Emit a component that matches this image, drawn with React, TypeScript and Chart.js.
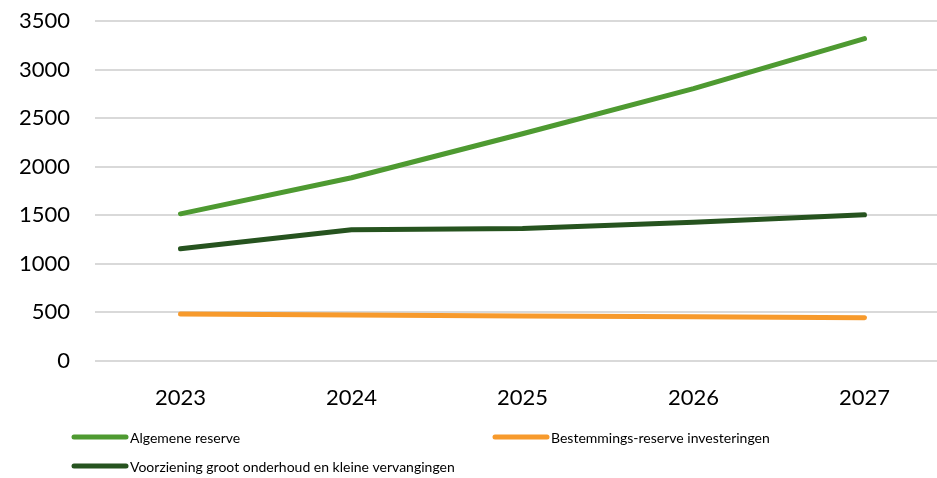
import React, { useEffect, useRef } from "react";
import { Chart, registerables } from "chart.js";

Chart.register(...registerables);

const categories = ["2023", "2024", "2025", "2026", "2027"];
const algemeneReserve = [1512, 1884, 2338, 2802, 3318];
const bestemmingsReserve = [480, 468, 458, 450, 442];
const voorziening = [1151, 1347, 1362, 1426, 1502];
const seriesNames = [
  "Algemene reserve",
  "Bestemmings-reserve investeringen",
  "Voorziening groot onderhoud en kleine vervangingen",
];
const yTicks = [0, 500, 1000, 1500, 2000, 2500, 3000, 3500];

const FONT = "Lato, 'Open Sans', sans-serif";

const legendPlugin = {
  id: "customLegend",
  afterDraw(chart: any) {
    const ctx = chart.ctx;
    const spots = [
      { x: 72, y: 437 },
      { x: 493, y: 437 },
      { x: 72, y: 466 },
    ];
    ctx.save();
    chart.data.datasets.forEach((ds: any, i: number) => {
      const p = spots[i];
      ctx.strokeStyle = ds.borderColor;
      ctx.lineWidth = 5;
      ctx.lineCap = "round";
      ctx.beginPath();
      ctx.moveTo(p.x + 2, p.y);
      ctx.lineTo(p.x + 54, p.y);
      ctx.stroke();
      ctx.fillStyle = "#000";
      ctx.font = `14px ${FONT}`;
      ctx.textBaseline = "middle";
      ctx.textAlign = "left";
      ctx.fillText(ds.label, p.x + 58, p.y + 1);
    });
    ctx.restore();
  },
};

export default function App() {
  const ref = useRef<HTMLCanvasElement | null>(null);
  useEffect(() => {
    if (!ref.current) return;
    const chart = new Chart(ref.current, {
      type: "line",
      data: {
        labels: categories,
        datasets: [
          { label: seriesNames[0], data: algemeneReserve, borderColor: "#4E9A31", backgroundColor: "#4E9A31" },
          { label: seriesNames[1], data: bestemmingsReserve, borderColor: "#F79A2C", backgroundColor: "#F79A2C" },
          { label: seriesNames[2], data: voorziening, borderColor: "#26531F", backgroundColor: "#26531F" },
        ],
      },
      options: {
        responsive: false,
        animation: false,
        layout: { padding: { top: 21, right: 0, left: 0, bottom: 0 } },
        elements: {
          line: { borderWidth: 5, borderCapStyle: "round", borderJoinStyle: "round", tension: 0 },
          point: { radius: 0, hoverRadius: 0 },
        },
        plugins: { legend: { display: false }, tooltip: { enabled: false } },
        scales: {
          x: {
            offset: true,
            grid: { display: false, drawTicks: false, offset: true },
            border: { display: false },
            ticks: { color: "#000", font: { family: FONT, size: 22 }, padding: 24 },
            afterFit(scale: any) {
              scale.height = 117.5;
              scale.paddingLeft = 0;
              scale.paddingRight = 0;
            },
          },
          y: {
            min: 0,
            max: 3500,
            afterBuildTicks(scale: any) {
              scale.ticks = yTicks.map((v) => ({ value: v }));
            },
            grid: { color: "#D9D9D9", lineWidth: 2, drawTicks: false },
            border: { display: false },
            ticks: {
              color: "#000",
              font: { family: FONT, size: 22 },
              padding: 25,
              callback: (v: any) => String(v),
            },
            afterFit(scale: any) {
              scale.width = 95;
              scale.paddingTop = 0;
              scale.paddingBottom = 0;
            },
          },
        },
      },
      plugins: [legendPlugin],
    });
    return () => chart.destroy();
  }, []);
  return (
    <div style={{ position: "fixed", left: 0, top: 0, width: 937, height: 478, overflow: "hidden", background: "#fff" }}>
      <canvas ref={ref} width={950} height={478} style={{ display: "block", width: 950, height: 478 }} />
    </div>
  );
}
